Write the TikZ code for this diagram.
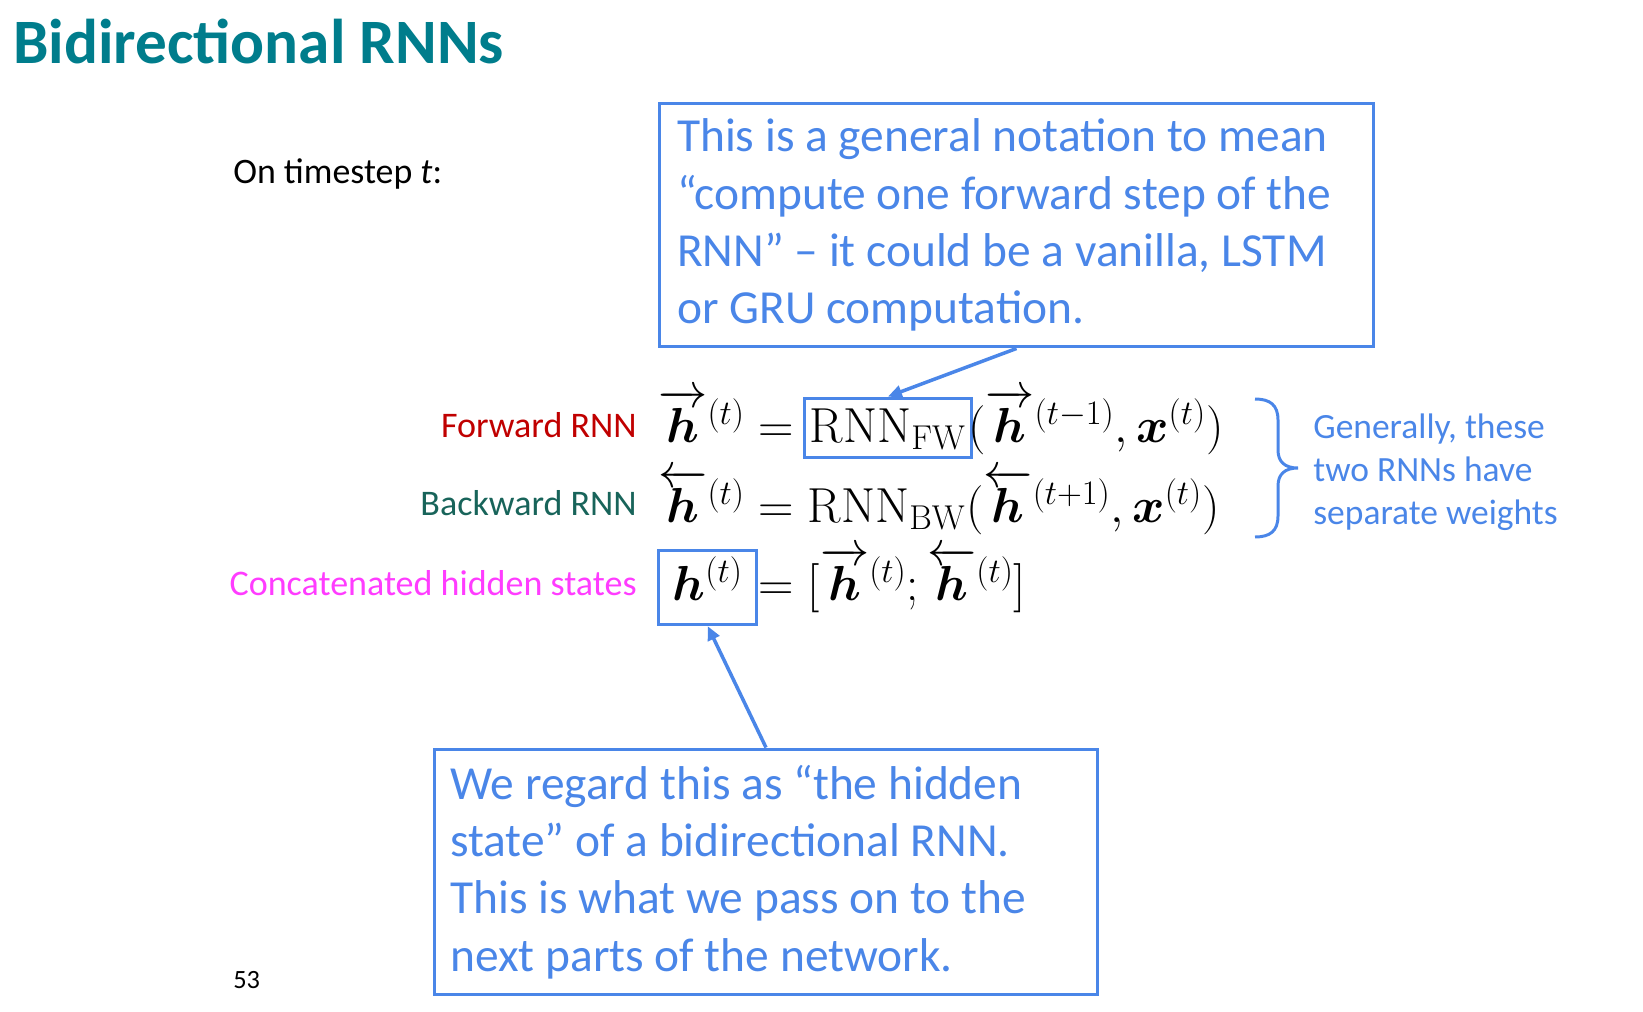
\RequirePackage{fix-cm}
\documentclass[tikz,border=0pt]{standalone}
\usepackage[no-math]{fontspec}
\setmainfont{Carlito}
\usepackage{amsmath,bm}
\usetikzlibrary{arrows.meta}

\definecolor{titleteal}{RGB}{0,125,140}
\definecolor{noteblue}{RGB}{74,134,232}
\definecolor{fwred}{RGB}{192,0,0}
\definecolor{bwgreen}{RGB}{24,100,90}
\definecolor{catpink}{RGB}{255,60,255}

\tikzset{
  note/.style={draw=noteblue, line width=1.7pt, text=noteblue, align=flush left, inner ysep=0pt, font=\fontsize{27}{32.6}\selectfont},
  rowlabel/.style={anchor=base east, inner sep=0pt, font=\fontsize{20.5}{24}\selectfont},
  eqn/.style={anchor=base west, inner sep=0pt, font=\fontsize{28}{34}\selectfont},
  hl/.style={draw=noteblue, line width=1.7pt},
  callout/.style={noteblue, line width=2pt, -{Triangle[length=8pt,width=7pt]}},
}

\begin{document}
\begin{tikzpicture}[x=0.02cm,y=-0.02cm]
\useasboundingbox (0,0) rectangle (1643,1011);

\node[anchor=base west, inner sep=0pt, text=titleteal, font=\fontsize{36}{42}\selectfont\bfseries] (title) at (13,63) {Bidirectional RNNs};
\node[anchor=base west, inner sep=0pt, font=\fontsize{20.4}{24}\selectfont] (ontime) at (233,183) {On timestep \textit{t}:};

\node[note, minimum width=14.30cm, minimum height=4.88cm, text width=13.58cm, inner xsep=0.36cm] (topnote) at (1016.5,225)
  {This is a general notation to mean\\ “compute one forward step of the\\ RNN” – it could be a vanilla, LSTM\\ or GRU computation.};

% the three rows
\node[rowlabel, text=fwred] (fwlabel) at (637,437) {Forward RNN};
\node[rowlabel, text=bwgreen] (bwlabel) at (637,515) {Backward RNN};
\node[rowlabel, text=catpink] (catlabel) at (637,595) {Concatenated hidden states};

\node[eqn] (hfw) at (658,442) {$\overrightarrow{\bm h}^{(t)} ={}$};
\node[eqn, hl, inner xsep=3pt, inner ysep=3pt, text height=22pt, text depth=6pt, xshift=-3pt] (rnnfw) at (hfw.base east) {$\mathrm{RNN}_{\mathrm{FW}}$};
\node[eqn, xshift=-3pt] (fwargs) at (rnnfw.base east) {$(\overrightarrow{\bm h}^{(t-1)}, \bm x^{(t)})$};

\node[eqn] (hbw) at (658,522) {$\overleftarrow{\bm h}^{(t)} = \mathrm{RNN}_{\mathrm{BW}}(\overleftarrow{\bm h}^{(t+1)}, \bm x^{(t)})$};

\node[eqn, hl, inner xsep=8pt, inner ysep=4pt, text height=24pt, text depth=10pt] (hcat) at (657,600) {$\bm h^{(t)}$};
\node[eqn] (hcatrhs) at (hcat.base east) {$=[\overrightarrow{\bm h}^{(t)}; \overleftarrow{\bm h}^{(t)}]$};

\draw[noteblue, line width=1.7pt] (1255,399) .. controls (1270,399) and (1278,405) .. (1278,420) -- (1278,450)
  .. controls (1278,462) and (1285,468) .. (1298,468) .. controls (1285,468) and (1278,474) .. (1278,486)
  -- (1278,516) .. controls (1278,531) and (1270,537) .. (1255,537);
\node[anchor=west, inner sep=0pt, align=flush left, text=noteblue, font=\fontsize{20.2}{24.5}\selectfont] (weights) at (1313,472)
  {Generally, these\\ two RNNs have\\ separate weights};

\node[note, minimum width=13.27cm, minimum height=4.92cm, text width=12.63cm, inner xsep=0.32cm] (botnote) at (766,872)
  {We regard this as “the hidden\\ state” of a bidirectional RNN.\\ This is what we pass on to the\\ next parts of the network.};

\draw[callout] (topnote.south) -- (rnnfw.north);
\draw[callout] (botnote.north) -- (hcat.south);

\node[anchor=base west, inner sep=0pt, font=\fontsize{15}{18}\selectfont] (pagenum) at (233,988) {53};
\end{tikzpicture}
\end{document}
